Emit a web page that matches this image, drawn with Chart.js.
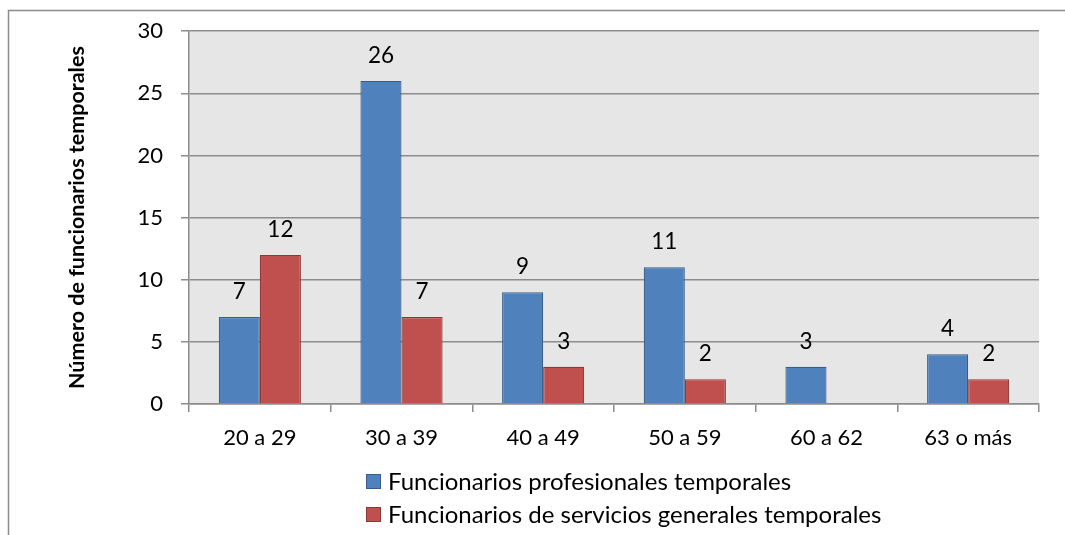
<!DOCTYPE html>
<html><head><meta charset="utf-8">
<script src="https://cdn.jsdelivr.net/npm/chart.js@4.4.0/dist/chart.umd.min.js"></script>
<style>html,body{margin:0;padding:0;background:#fff}#wrap{width:1065px;height:535px}</style>
</head><body><div id="wrap"><canvas id="c" width="1065" height="535"></canvas></div>
<script>
const categories = ["20 a 29","30 a 39","40 a 49","50 a 59","60 a 62","63 o más"];
const profesionales = [7,26,9,11,3,4];
const serviciosGenerales = [12,7,3,2,0,2];
const seriesNames = ["Funcionarios profesionales temporales","Funcionarios de servicios generales temporales"];
const yTicks = [0,5,10,15,20,25,30];
const yTitle = "Número de funcionarios temporales";
const FONT = "Lato, 'Open Sans', sans-serif";

const frame = {
  id:'frame',
  beforeDraw(chart){
    const ctx=chart.ctx, a=chart.chartArea;
    ctx.save();
    ctx.fillStyle='#fff'; ctx.fillRect(0,0,chart.width,chart.height);
    ctx.strokeStyle='#8c8c8c'; ctx.lineWidth=1.5;
    ctx.strokeRect(8.5,10.5,chart.width+20,chart.height+20);
    ctx.fillStyle='#e6e6e6';
    ctx.fillRect(a.left,a.top,a.right-a.left,a.bottom-a.top);
    ctx.restore();
  }
};
const labels = {
  id:'labels',
  afterDatasetsDraw(chart){
    const ctx=chart.ctx;
    ctx.save();
    ctx.font="22.5px "+FONT; ctx.fillStyle='#000'; ctx.textAlign='center'; ctx.textBaseline='alphabetic';
    chart.data.datasets.forEach((ds,i)=>{
      chart.getDatasetMeta(i).data.forEach((el,j)=>{
        const v=ds.data[j]; if(!v) return;
        ctx.fillText(String(v), el.x, el.y-18);
      });
    });
    ctx.restore();
  }
};
const legend = {
  id:'customLegend',
  afterDraw(chart){
    const ctx=chart.ctx;
    ctx.save();
    ctx.font="24px "+FONT; ctx.textBaseline='alphabetic'; ctx.textAlign='left';
    chart.data.datasets.forEach((ds,i)=>{
      const y=481+i*33;
      ctx.fillStyle=ds.backgroundColor; ctx.strokeStyle=ds.borderColor; ctx.lineWidth=1;
      ctx.fillRect(366,y-7,15,15); ctx.strokeRect(366.5,y-6.5,14,14);
      ctx.fillStyle='#000';
      ctx.fillText(ds.label,388,y+8.5);
    });
    ctx.restore();
  }
};

new Chart(document.getElementById('c'),{
  type:'bar',
  data:{labels:categories,datasets:[
    {label:seriesNames[0],data:profesionales,backgroundColor:'#4f81bd',borderColor:'#385d8a',borderWidth:1.2,borderSkipped:'bottom'},
    {label:seriesNames[1],data:serviciosGenerales,backgroundColor:'#c0504d',borderColor:'#8c3836',borderWidth:1.2,borderSkipped:'bottom'}
  ]},
  options:{
    responsive:false,animation:false,devicePixelRatio:1,
    layout:{padding:{left:60,top:19,right:26,bottom:81}},
    datasets:{bar:{categoryPercentage:0.58,barPercentage:1}},
    plugins:{legend:{display:false},tooltip:{enabled:false}},
    scales:{
      x:{
        grid:{offset:true,drawOnChartArea:false,drawTicks:true,tickLength:8,color:'#8c8c8c',lineWidth:1.5},
        border:{color:'#8c8c8c',width:1.5},
        ticks:{color:'#000',font:{family:FONT,size:22},padding:13},
        afterFit(s){s.height=50;}
      },
      y:{
        min:0,max:30,
        afterBuildTicks(s){s.ticks=yTicks.map(v=>({value:v}));},
        grid:{color:'#8c8c8c',lineWidth:1.5,tickLength:8},
        border:{color:'#8c8c8c',width:1.5},
        ticks:{color:'#000',font:{family:FONT,size:22},padding:18},
        title:{display:true,text:yTitle,color:'#000',font:{family:FONT,size:21.5,weight:'bold'},padding:4},
        afterFit(s){s.width=129;}
      }
    }
  },
  plugins:[frame,labels,legend]
});
</script></body></html>
